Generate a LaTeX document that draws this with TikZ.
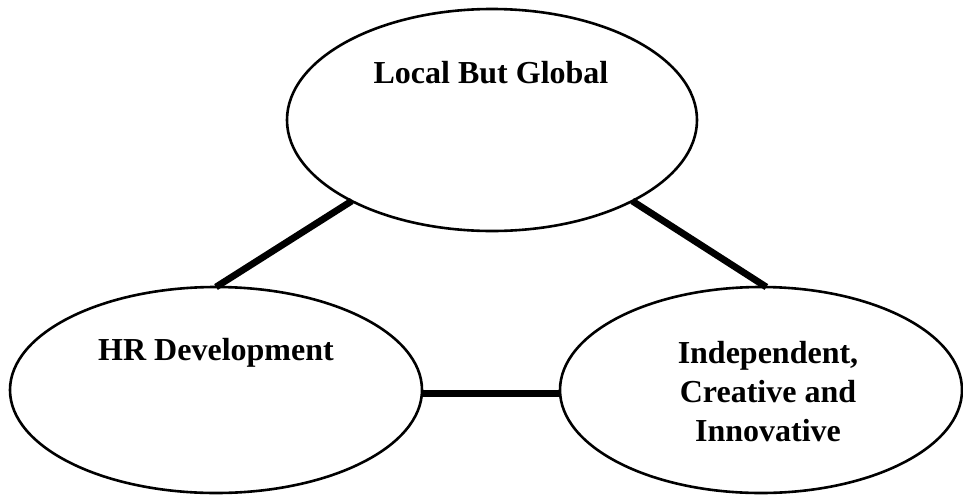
\documentclass[tikz,border=0pt]{standalone}
\usepackage{fontspec}
\setmainfont{Liberation Serif}
\usetikzlibrary{shapes.geometric}
\tikzset{
	bubble/.style={draw, ellipse, line width=1.3pt, inner sep=0pt, outer sep=0pt},
	lbl/.style={font=\fontsize{16}{19.5}\selectfont\bfseries, align=center, inner sep=0pt},
	link/.style={line width=3.4pt}
}
\begin{document}
\begin{tikzpicture}[x=0.5pt, y=0.5pt, line join=round]
			\def\xmax{963};\def\ymax{495};
			\useasboundingbox (0,0) rectangle (\xmax,\ymax);
			% the three ovals
			\node[bubble, minimum width=205pt, minimum height=111pt] (lbg) at (492,375) {};
			\node[bubble, minimum width=206pt, minimum height=103pt] (hr) at (216,105) {};
			\node[bubble, minimum width=201pt, minimum height=103pt] (ici) at (761,105) {};
			% their texts
			\node[lbl, anchor=base] (lbg-t) at (491,412) {Local But Global};
			\node[lbl, anchor=base] (hr-t) at (216,135) {HR Development};
			\node[lbl] (ici-t) at (768,103) {Independent,\\Creative and\\Innovative};
			% links between them
			\draw[link] (lbg.210) -- (hr.north);
			\draw[link] (lbg.330) -- (ici.87);
			\draw[link] (hr.-1) -- (ici.181);
		\end{tikzpicture}
\end{document}
